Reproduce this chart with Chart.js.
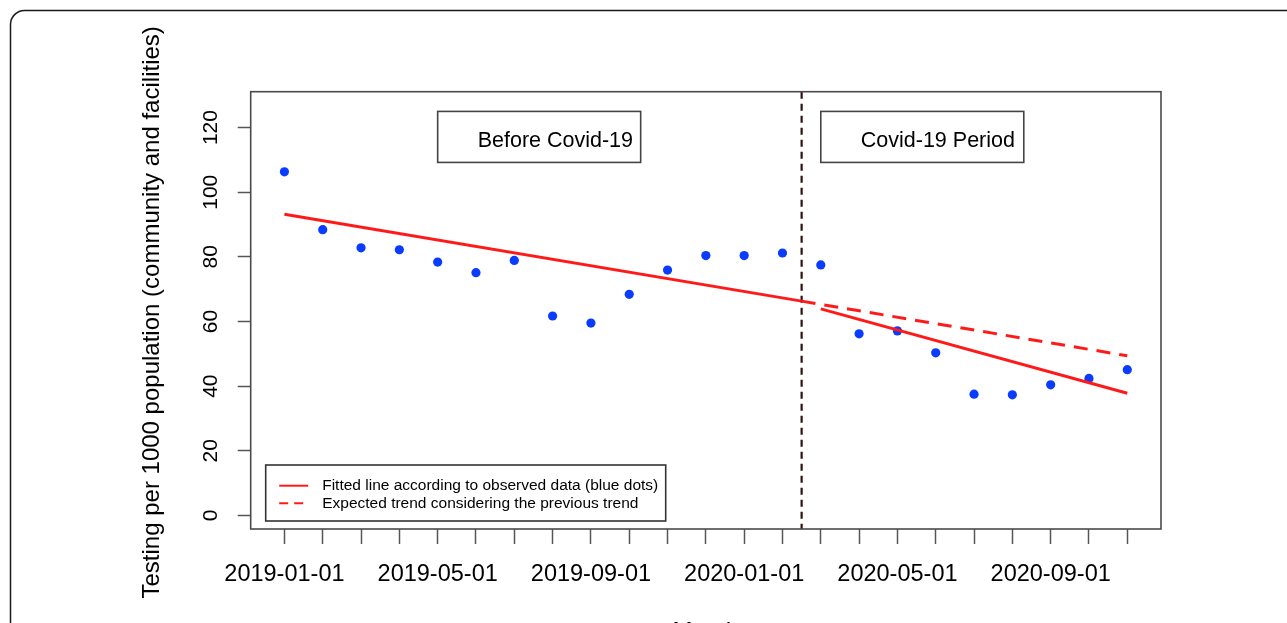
<!DOCTYPE html>
<html>
<head>
<meta charset="utf-8">
<script src="https://cdn.jsdelivr.net/npm/chart.js@4/dist/chart.umd.min.js"></script>
<style>
  html, body { margin: 0; padding: 0; background: #fff; overflow: hidden; }
  canvas { display: block; }
</style>
</head>
<body>
<canvas id="chart" width="1287" height="623"></canvas>
<script>
// Monthly testing rate, January 2019 to November 2020
const months = [
  '2019-01-01', '2019-02-01', '2019-03-01', '2019-04-01', '2019-05-01', '2019-06-01',
  '2019-07-01', '2019-08-01', '2019-09-01', '2019-10-01', '2019-11-01', '2019-12-01',
  '2020-01-01', '2020-02-01', '2020-03-01', '2020-04-01', '2020-05-01', '2020-06-01',
  '2020-07-01', '2020-08-01', '2020-09-01', '2020-10-01', '2020-11-01'
];
const testing = [
  106.3, 88.4, 82.8, 82.2, 78.4, 75.1,
  78.9, 61.7, 59.5, 68.4, 75.9, 80.4,
  80.4, 81.2, 77.5, 56.2, 57.1, 50.3,
  37.5, 37.3, 40.4, 42.4, 45.1
];
const yTicks = [0, 20, 40, 60, 80, 100, 120];
const labelEvery = 4;                 // a date label on every fourth month

// Segmented regression: break in mid-February 2020 (month index 13.5)
const interruption = 13.5;
const preTrend = [93.2, 66.3];        // fitted, month 0 -> interruption
const expectedTrend = [66.3, 49.4];   // previous trend carried on, interruption -> last month
const postTrend = [63.9, 37.8];       // fitted, first Covid month -> last month

const periodLabels = ['Before Covid-19', 'Covid-19 Period'];
const periodStartMonth = [4, 14];
const legendLabels = [
  'Fitted line according to observed data (blue dots)',
  'Expected trend considering the previous trend'
];
const yTitle = 'Testing per 1000 population (community and facilities)';
const xTitle = 'Month';

const FONT = '"Liberation Sans", Arial, Helvetica, sans-serif';
const RED = '#ff1a1a';
const BLUE = '#0a3cff';
const last = months.length - 1;
const firstCovidMonth = Math.ceil(interruption);

const decor = {
  id: 'decor',
  afterDraw(chart) {
    const { ctx, chartArea: a, scales: { x, y } } = chart;
    ctx.save();

    // outer figure frame
    ctx.strokeStyle = '#1a1a1a';
    ctx.lineWidth = 1.5;
    ctx.beginPath();
    ctx.roundRect(10.5, 10.5, 1400, 800, 14);
    ctx.stroke();

    // plot box
    ctx.strokeStyle = '#4a4a4a';
    ctx.lineWidth = 1.6;
    ctx.strokeRect(a.left, a.top, a.right - a.left, a.bottom - a.top);

    // y tick labels, written parallel to the axis
    ctx.fillStyle = '#000';
    ctx.textAlign = 'center';
    ctx.textBaseline = 'alphabetic';
    ctx.font = `21px ${FONT}`;
    yTicks.forEach(v => {
      ctx.save();
      ctx.translate(a.left - 33.5, y.getPixelForValue(v));
      ctx.rotate(-Math.PI / 2);
      ctx.fillText(String(v), 0, 0);
      ctx.restore();
    });

    // axis titles
    ctx.font = `24px ${FONT}`;
    ctx.save();
    ctx.translate(a.left - 92, (a.top + a.bottom) / 2 + 2);
    ctx.rotate(-Math.PI / 2);
    ctx.fillText(yTitle, 0, 0);
    ctx.restore();
    ctx.fillText(xTitle, (a.left + a.right) / 2, a.bottom + 110);

    // period label boxes
    ctx.font = `21.5px ${FONT}`;
    ctx.textAlign = 'left';
    ctx.textBaseline = 'middle';
    periodLabels.forEach((txt, i) => {
      const bx = x.getPixelForValue(periodStartMonth[i]);
      const by = y.getPixelForValue(125);
      ctx.strokeStyle = '#444';
      ctx.lineWidth = 1.6;
      ctx.strokeRect(bx, by, 203, 51);
      ctx.fillStyle = '#000';
      ctx.fillText(txt, bx + 40, by + 30);
    });

    // legend, bottom left inside the plot
    const lx = a.left + 15, ly = a.bottom - 64;
    ctx.fillStyle = '#fff';
    ctx.fillRect(lx, ly, 400, 56);
    ctx.strokeStyle = '#333';
    ctx.lineWidth = 1.6;
    ctx.strokeRect(lx, ly, 400, 56);
    ctx.font = `15.5px ${FONT}`;
    ctx.fillStyle = '#000';
    const rows = [ly + 20.7, ly + 38.3];
    const dashes = [[], [9, 6]];
    legendLabels.forEach((txt, i) => {
      ctx.strokeStyle = RED;
      ctx.lineWidth = 2;
      ctx.setLineDash(dashes[i]);
      ctx.beginPath();
      ctx.moveTo(lx + 13.5, rows[i]);
      ctx.lineTo(lx + 42.5, rows[i]);
      ctx.stroke();
      ctx.setLineDash([]);
      ctx.fillText(txt, lx + 56.5, rows[i]);
    });

    ctx.restore();
  }
};

const lineSet = (pts, color, width, dash) => ({
  data: pts,
  showLine: true,
  borderColor: color,
  borderWidth: width,
  borderDash: dash,
  pointRadius: 0,
  fill: false
});

new Chart(document.getElementById('chart'), {
  type: 'scatter',
  data: {
    datasets: [
      lineSet([{ x: 0, y: preTrend[0] }, { x: interruption, y: preTrend[1] }], RED, 3, []),
      lineSet([{ x: interruption, y: expectedTrend[0] }, { x: last, y: expectedTrend[1] }], RED, 3, [14, 9]),
      lineSet([{ x: firstCovidMonth, y: postTrend[0] }, { x: last, y: postTrend[1] }], RED, 3, []),
      lineSet([{ x: interruption, y: 131.1 }, { x: interruption, y: -4.2 }], '#2e1212', 2.2, [7, 5]),
      {
        data: testing.map((v, i) => ({ x: i, y: v })),
        showLine: false,
        pointRadius: 4.6,
        pointBackgroundColor: BLUE,
        pointBorderWidth: 0
      }
    ]
  },
  options: {
    responsive: false,
    animation: false,
    events: [],
    layout: { padding: { left: 0, top: 91.7, right: 126, bottom: 0 } },
    plugins: { legend: { display: false }, tooltip: { enabled: false } },
    scales: {
      x: {
        type: 'linear',
        min: -0.88,
        max: last + 0.88,
        afterBuildTicks: s => { s.ticks = months.map((m, i) => ({ value: i })); },
        afterFit: s => { s.height = 94; },
        border: { display: false },
        grid: { drawOnChartArea: false, drawTicks: true, tickLength: 15, tickColor: '#555', tickWidth: 1.5 },
        ticks: {
          autoSkip: false,
          maxRotation: 0,
          minRotation: 0,
          padding: 16,
          color: '#000',
          font: { family: FONT, size: 23.5 },
          callback: (v) => (v % labelEvery === 0 ? months[v] : '')
        }
      },
      y: {
        type: 'linear',
        min: -4.2,
        max: 131.1,
        afterBuildTicks: s => { s.ticks = yTicks.map(v => ({ value: v })); },
        afterFit: s => { s.width = 250.7; },
        border: { display: false },
        grid: { drawOnChartArea: false, drawTicks: true, tickLength: 13, tickColor: '#555', tickWidth: 1.5 },
        ticks: { display: false }
      }
    }
  },
  plugins: [decor]
});
</script>
</body>
</html>
